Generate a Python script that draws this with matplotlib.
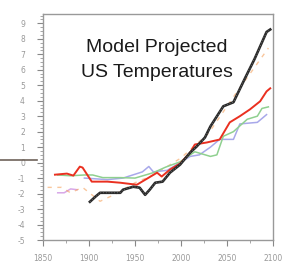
import matplotlib
matplotlib.use("Agg")
import matplotlib.pyplot as plt
from matplotlib.ticker import MultipleLocator

# ---- data ----
red_years = [1863, 1876, 1883, 1890, 1893, 1903, 1920, 1934, 1952, 1974, 1979, 1988, 1999, 2010, 2015, 2028, 2042, 2053, 2064, 2075, 2086, 2093, 2097]
red_vals = [-0.78, -0.71, -0.84, -0.26, -0.32, -1.23, -1.23, -1.3, -1.43, -0.65, -0.9, -0.45, -0.06, 0.65, 1.17, 1.3, 1.49, 2.6, 3.0, 3.44, 3.96, 4.6, 4.8]

black_years = [1901, 1907, 1912, 1934, 1937, 1948, 1955, 1961, 1966, 1972, 1980, 1988, 1999, 2010, 2017, 2026, 2032, 2046, 2057, 2070, 2080, 2093, 2097]
black_vals = [-2.53, -2.2, -1.95, -1.95, -1.75, -1.56, -1.62, -2.08, -1.75, -1.3, -1.23, -0.65, -0.13, 0.65, 1.04, 1.62, 2.34, 3.64, 3.9, 5.5, 6.7, 8.44, 8.6]

green_years = [1866, 1880, 1895, 1904, 1915, 1934, 1950, 1970, 1983, 1999, 2015, 2032, 2039, 2046, 2057, 2072, 2083, 2088, 2095]
green_vals = [-0.8, -0.85, -0.8, -0.8, -0.97, -0.97, -1.0, -0.65, -0.3, 0.05, 0.7, 0.4, 0.5, 1.7, 2.0, 2.8, 3.0, 3.5, 3.6]

blue_years = [1895, 1920, 1937, 1958, 1965, 1970, 1985, 1999, 2010, 2020, 2032, 2042, 2057, 2064, 2083, 2093]
blue_vals = [-1.0, -1.1, -1.0, -0.6, -0.25, -0.6, -0.5, 0.0, 0.4, 0.5, 1.0, 1.5, 1.5, 2.5, 2.6, 3.1]

orange_years = [1855, 1870, 1880, 1893, 1912, 1930, 1950, 1970, 2000, 2030, 2060, 2095]
orange_vals = [-1.6, -1.6, -1.95, -1.6, -2.5, -2.0, -1.3, -0.8, 0.3, 1.9, 4.5, 7.4]

violet_years = [1866, 1873, 1880, 1887]
violet_vals = [-1.95, -1.95, -1.7, -1.75]

x_ticks = [1850, 1900, 1950, 2000, 2050, 2100]
y_ticks = list(range(-5, 10))
title_lines = ["Model Projected", "US Temperatures"]

fig = plt.figure(figsize=(2.88, 2.69), dpi=100)
ax = fig.add_axes([43/288, 1-240/269, 230/288, 226/269])

ax.plot(violet_years, violet_vals, color="#d8a8e8", lw=1.1)
ax.plot(orange_years, orange_vals, color="#f5a05a", lw=1.0, ls=(0, (3, 4)), alpha=0.6)
ax.plot(blue_years, blue_vals, color="#a8a8ea", lw=1.1)
ax.plot(green_years, green_vals, color="#8fd08f", lw=1.1)
ax.plot(red_years, red_vals, color="#ea3020", lw=1.4)
ax.plot(black_years, black_vals, color="#2a2a2a", lw=1.9)
ax.plot(black_years, black_vals, color="#9a9a9a", lw=0.5, ls=(0, (1, 3)))

ax.set_xlim(1850, 2100)
ax.set_ylim(-5, 9.6)
ax.set_xticks(x_ticks)
ax.set_xticklabels([str(t) for t in x_ticks])
ax.set_yticks(y_ticks)
ax.set_yticklabels([str(t) for t in y_ticks])
ax.xaxis.set_minor_locator(MultipleLocator(25))
ax.yaxis.set_minor_locator(MultipleLocator(0.25))
ax.tick_params(axis="both", which="major", labelsize=5.5, labelcolor="#999999",
               color="#888888", length=4, width=0.8, direction="out")
ax.tick_params(axis="both", which="minor", color="#999999", length=2, width=0.6, direction="out")
ax.tick_params(axis="y", pad=9)
ax.tick_params(axis="x", pad=6)
for s in ax.spines.values():
    s.set_color("#999999")
    s.set_linewidth(1.0)

ax.text(0.496, 0.85, title_lines[0], transform=ax.transAxes, ha="center", va="center",
        fontsize=14, family="Liberation Sans", color="#1a1a1a")
ax.text(0.496, 0.743, title_lines[1], transform=ax.transAxes, ha="center", va="center",
        fontsize=14, family="Liberation Sans", color="#1a1a1a")

fig.add_artist(plt.Line2D([0, 37/288], [1-160/269, 1-160/269], color="#6e625a", lw=1.2,
                          transform=fig.transFigure))

fig.savefig("out.png", dpi=100)
